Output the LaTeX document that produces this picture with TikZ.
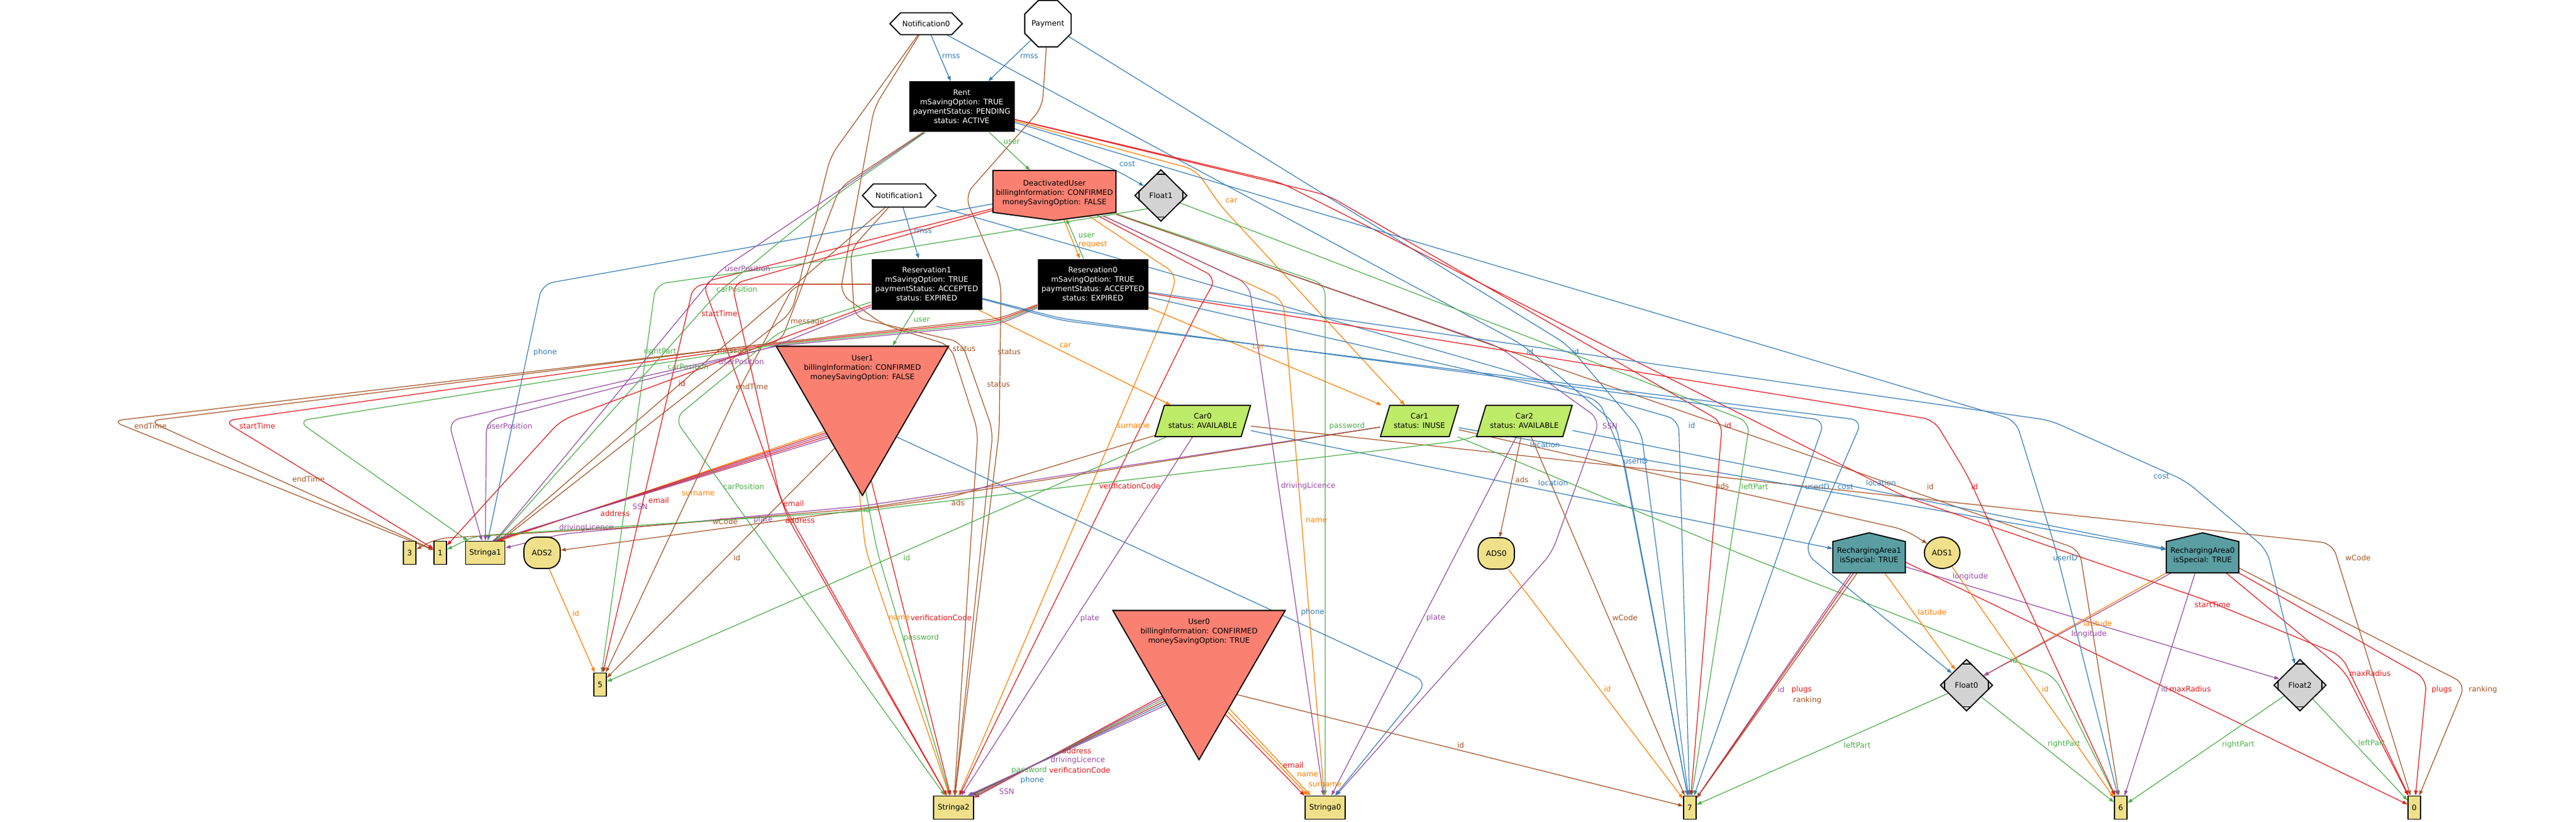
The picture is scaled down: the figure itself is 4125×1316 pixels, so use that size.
\documentclass[tikz,border=0pt]{standalone}
\usepackage{fontspec}
\setmainfont{DejaVu Sans}
\usetikzlibrary{shapes.geometric,arrows.meta,backgrounds,calc}
\newdimen\pxu
\pxu=0.5pt
\definecolor{cb}{RGB}{55,126,184}
\definecolor{cr}{RGB}{228,26,28}
\definecolor{cg}{RGB}{77,175,74}
\definecolor{cp}{RGB}{152,78,163}
\definecolor{co}{RGB}{255,127,0}
\definecolor{cn}{RGB}{166,86,40}
\definecolor{khk}{RGB}{240,224,138}
\definecolor{slm}{RGB}{250,128,114}
\definecolor{cLime}{RGB}{190,235,104}
\definecolor{cTeal}{RGB}{90,158,162}
\definecolor{lgry}{RGB}{211,211,211}
\tikzset{
 edg/.style={line width=0.6pt,-{Triangle[length=4pt,width=2.8pt]},rounded corners=9pt},
 lb/.style={inner sep=0pt},
 txt/.style={inner sep=0pt,align=center},
 shp/.style={draw,line width=0.9pt},
 ibox/.style={draw,line width=0.9pt,fill=khk,inner sep=0pt,minimum height=37\pxu},
 blk/.style={fill=black,text=white,align=center,inner sep=0pt},
 fdia/.style={diamond,draw,line width=0.9pt,fill=lgry,inner sep=0pt,minimum width=84\pxu,minimum height=83\pxu},
 utri/.style={regular polygon,regular polygon sides=3,regular polygon rotate=180,minimum size=318.6\pxu,draw,line width=0.9pt,fill=slm,inner sep=0pt},
 adsq/.style={rectangle,rounded corners=10pt,draw,line width=0.9pt,fill=khk,minimum width=58\pxu,minimum height=50\pxu,inner sep=0pt},
}
\newcommand\elab[5]{\node[lb,text=#2] (#1) at (#3,#4) {#5};}
\newcommand\mdticks[1]{\draw[line width=0.9pt] ($(#1.north)+(-8,8)$) -- ($(#1.north)+(8,8)$) ($(#1.south)+(-8,-8)$) -- ($(#1.south)+(8,-8)$) ($(#1.west)+(8,-8)$) -- ($(#1.west)+(8,8)$) ($(#1.east)+(-8,-8)$) -- ($(#1.east)+(-8,8)$);}
\begin{document}
\begin{tikzpicture}[x=0.5pt,y=-0.5pt,font=\fontsize{6}{7.5}\selectfont]
\useasboundingbox (0,0) rectangle (4125,1316);
% ---------------- nodes ----------------
\draw[shp,fill=white] (1425,38) -- (1442,20.5) -- (1524,20.5) -- (1541,38) -- (1524,55.5) -- (1442,55.5) -- cycle;
\node[txt,minimum width=117\pxu,minimum height=35\pxu] (N0) at (1483,38) {Notification0};
\node[regular polygon,regular polygon sides=8,minimum size=70\pxu,draw,line width=0.9pt,fill=white,inner sep=0pt] (Pay) at (1678,38) {Payment};
\node[blk,minimum width=169\pxu,minimum height=81\pxu] (Rent) at (1540,171) {Rent\\mSavingOption: TRUE\\paymentStatus: PENDING\\status: ACTIVE};
\draw[shp,fill=white] (1381,313) -- (1398.5,294.5) -- (1481.5,294.5) -- (1499,313) -- (1481.5,331.5) -- (1398.5,331.5) -- cycle;
\node[txt,minimum width=118\pxu,minimum height=37\pxu] (N1) at (1440,313) {Notification1};
\draw[shp,fill=slm] (1590,273) -- (1787,273) -- (1787,340) -- (1688.5,353) -- (1590,340) -- cycle;
\node[txt,minimum width=197\pxu,minimum height=72\pxu] (DU) at (1688.5,309) {DeactivatedUser\\billingInformation: CONFIRMED\\moneySavingOption: FALSE};
\node[fdia] (F1) at (1859,313) {Float1};
\mdticks{F1}
\node[blk,minimum width=177\pxu,minimum height=81\pxu] (R1) at (1484,455) {Reservation1\\mSavingOption: TRUE\\paymentStatus: ACCEPTED\\status: EXPIRED};
\node[blk,minimum width=177\pxu,minimum height=81\pxu] (R0) at (1750,455) {Reservation0\\mSavingOption: TRUE\\paymentStatus: ACCEPTED\\status: EXPIRED};
\node[utri] (U1) at (1381,634) {};
\node[txt] (U1t) at (1381,589) {User1\\billingInformation: CONFIRMED\\moneySavingOption: FALSE};
\draw[shp,fill=cLime] (1849.5,699) -- (1987.5,699) -- (2002.5,649) -- (1864.5,649) -- cycle;
\node[txt,minimum width=153\pxu,minimum height=50\pxu] (C0) at (1926,674) {Car0\\status: AVAILABLE};
\draw[shp,fill=cLime] (2210.5,699) -- (2320.5,699) -- (2335.5,649) -- (2225.5,649) -- cycle;
\node[txt,minimum width=125\pxu,minimum height=50\pxu] (C1) at (2273,674) {Car1\\status: INUSE};
\draw[shp,fill=cLime] (2364.5,699) -- (2502.5,699) -- (2517.5,649) -- (2379.5,649) -- cycle;
\node[txt,minimum width=153\pxu,minimum height=50\pxu] (C2) at (2441,674) {Car2\\status: AVAILABLE};
\node[ibox,minimum width=20\pxu] (I3) at (656,885) {3};
\node[ibox,minimum width=20\pxu] (I1) at (705,885) {1};
\node[ibox,minimum width=63\pxu] (S1) at (777,885) {Stringa1};
\node[adsq] (ADS2) at (868,885) {ADS2};
\node[ibox,minimum width=20\pxu] (I5) at (961,1096) {5};
\node[adsq] (ADS0) at (2396,886) {ADS0};
\draw[shp,fill=cTeal] (2935,917) -- (2935,867) -- (2993,853) -- (3051,867) -- (3051,917) -- cycle;
\node[txt,minimum width=116\pxu,minimum height=54\pxu] (RA1) at (2993,890) {RechargingArea1\\isSpecial: TRUE};
\node[ellipse,draw,line width=0.9pt,fill=khk,minimum width=57\pxu,minimum height=50\pxu,inner sep=0pt] (ADS1) at (3110,885) {ADS1};
\draw[shp,fill=cTeal] (3469,917) -- (3469,867) -- (3527,853) -- (3585,867) -- (3585,917) -- cycle;
\node[txt,minimum width=116\pxu,minimum height=54\pxu] (RA0) at (3527,890) {RechargingArea0\\isSpecial: TRUE};
\node[fdia] (F0) at (3149,1097) {Float0};
\mdticks{F0}
\node[fdia] (F2) at (3683,1097) {Float2};
\mdticks{F2}
\node[utri] (U0) at (1920,1057) {};
\node[txt] (U0t) at (1920,1011) {User0\\billingInformation: CONFIRMED\\moneySavingOption: TRUE};
\node[ibox,minimum width=64\pxu] (S2) at (1527,1293) {Stringa2};
\node[ibox,minimum width=64\pxu] (S0) at (2122,1293) {Stringa0};
\node[ibox,minimum width=20\pxu] (I7) at (2706,1293) {7};
\node[ibox,minimum width=20\pxu] (I6) at (3396,1293) {6};
\node[ibox,minimum width=20\pxu] (I0) at (3866,1293) {0};
% ---------------- edges ----------------
\begin{pgfonlayer}{background}
\fill[white] (0,0) rectangle (4125,1316);
\draw[edg,cb] (N0) -- (Rent);
\draw[edg,cb] (Pay) -- (Rent);
\draw[edg,cb] (N1) -- (R1);
\draw[edg,cg] (Rent) -- (DU);
\draw[edg,cb] (Rent) -- (1790,274) -- (F1);
\draw[edg,co] (Rent) -- (1915,272) -- (1955,330) -- (C1);
\draw[edg,cg] ([xshift=-15\pxu]R0.north) -- ([xshift=19\pxu,yshift=-5\pxu]DU.south);
\draw[edg,co] ([xshift=15\pxu,yshift=-6\pxu]DU.south) -- ([xshift=-21\pxu]R0.north);
\draw[edg,cg] ([xshift=-20\pxu]R1.south) -- (U1);
\draw[edg,co] (R1) -- (C0);
\draw[edg,co] (R0) -- (C1);
% notifications / payment
\draw[edg,cb] (N0) -- (2438,552) -- (2588,680) -- (I7);
\draw[edg,cb] (Pay) -- (2510,552) -- (2628,690) -- (I7);
\draw[edg,cb] (N1) -- (2688,672) -- (I7);
\draw[edg,cn] (N0) -- (1330,250) -- (1268,500) -- (S1);
\draw[edg,cn] (N1) -- (1152,560) -- (S1);
\draw[edg,cn] (N0) -- (1400,172) -- (1345,470) -- (1415,520) -- (1522,553) -- (1566,690) -- (S2);
\draw[edg,cn] (N1) -- (1362,400) -- (1368,508) -- (1540,548) -- (1590,690) -- (S2);
\draw[edg,cn] (Pay) -- (1669,172) -- (1545,313) -- (1603,453) -- (1600,690) -- (S2);
% deactivated user
\draw[edg,co] (DU) -- (2055,480) -- (S0);
\draw[edg,cg] (DU) -- (2122,455) -- (S0);
\draw[edg,cp] (DU) -- (2000,455) -- (S0);
\draw[edg,cp] (DU) -- (2400,555) -- (2562,672) -- (2485,885) -- (S0);
\draw[edg,co] (DU) -- (1885,440) -- (1866,500) -- (S2);
\draw[edg,cr] (DU) -- (1948,445) -- (1917,500) -- (S2);
\draw[edg,cr] (DU) -- (1172,455) -- (1250,800) -- (S2);
\draw[edg,cr] (DU) -- (1125,452) -- (1262,830) -- (S2);
\draw[edg,cb] (DU) -- (868,455) -- (S1);
\draw[edg,cn] (DU) -- (3330,880) -- (I6);
% user1
\draw[edg,co] (U1.223) -- (S1.40);
\draw[edg,cr] (U1.225) -- (S1.45);
\draw[edg,cp] (U1.227) -- (S1.50);
\draw[edg,cr] (U1.229) -- (S1.55);
\draw[edg,cp] (U1.231) -- (S1.60);
\draw[edg,co] (U1.268) -- (1386,880) -- (S2);
\draw[edg,cg] (U1.272) -- (1404,880) -- (S2);
\draw[edg,cr] (U1.276) -- (S2);
\draw[edg,cb] (U1.310) -- (2285,1092) -- (S0);
\draw[edg,cn] (U1.242) -- (I5);
% user0
\draw[edg,cr] (U0.224) -- (S2.26);
\draw[edg,cp] (U0.226) -- (S2.29);
\draw[edg,cg] (U0.228) -- (S2.32);
\draw[edg,cr] (U0.230) -- (S2.35);
\draw[edg,cb] (U0.232) -- (S2.38);
\draw[edg,cp] (U0.234) -- (S2.41);
\draw[edg,cr] (U0.296) -- (S0.150);
\draw[edg,co] (U0.299) -- (S0.145);
\draw[edg,co] (U0.302) -- (S0.140);
\draw[edg,cn] (U0.318) -- (I7);
% cars
\draw[edg,cp] (C0) -- (S2);
\draw[edg,cn] (C0) -- (3735,870) -- (I0);
\draw[edg,cg] (C0) -- (I5);
\draw[edg,cn] (C0) -- (1519,797) -- (ADS2);
\draw[edg,cb] (C0) -- (RA1);
\draw[edg,cp] (C1) -- (1383,810) -- (900,855) -- (S1);
\draw[edg,cn] (C1) -- (1383,814) -- (1000,845) -- (700,862) -- (I3);
\draw[edg,cg] (C2) -- (2337,706) -- (1383,818) -- (760,858) -- (I1);
\draw[edg,cn] (C1) -- (3050,848) -- (ADS1);
\draw[edg,cg] (C1) -- (2800,892) -- (3290,1083) -- (I6);
\draw[edg,cb] (C1) -- (RA0);
\draw[edg,cn] (C2) -- (ADS0);
\draw[edg,cn] (C2) -- (I7);
\draw[edg,cp] (C2) -- (S0);
\draw[edg,cb] (C2) -- (RA0);
% recharging areas, ads, floats
\draw[edg,cp] ([xshift=-29\pxu]RA1.south) -- (I7);
\draw[edg,cr] ([xshift=-25\pxu]RA1.south) -- (I7);
\draw[edg,cn] ([xshift=-19\pxu]RA1.south) -- (I7);
\draw[edg,co] ([xshift=25\pxu]RA1.south) -- (F0);
\draw[edg,cp] (RA1) -- (F2);
\draw[edg,cr] ([yshift=-10\pxu]RA1.east) -- (I0);
\draw[edg,co] (RA0.south west) -- (F0);
\draw[edg,cp] ([xshift=8\pxu]RA0.south west) -- (F0);
\draw[edg,cp] ([xshift=-12\pxu]RA0.south) -- (I6);
\draw[edg,cr] ([xshift=38\pxu]RA0.south) -- (3755,1075) -- (I0);
\draw[edg,cr] (RA0.south east) -- (3886,1087) -- (I0);
\draw[edg,cn] ([yshift=8\pxu]RA0.south east) -- (3948,1095) -- (I0);
\draw[edg,co] (ADS1) -- (I6);
\draw[edg,co] (ADS0) -- (I7);
\draw[edg,co] (ADS2) -- (I5);
\draw[edg,cg] (F0) -- (I7);
\draw[edg,cg] (F0) -- (I6);
\draw[edg,cg] (F2) -- (I6);
\draw[edg,cg] (F2) -- (I0);
\draw[edg,cg] (F1) -- (2802,676) -- (I7);
\draw[edg,cg] (F1.south west) -- (1350,413) -- (1050,455) -- (I5);
% reservations
\draw[edg,cr] (Rent) -- (2127,313) -- (2758,676) -- (I7);
\draw[edg,cr] (Rent) -- (2050,292) -- (3050,795) -- (3530,960) -- (3750,1050) -- (I0);
\draw[edg,cn] (Rent) -- (1345,300) -- (1250,548) -- (179,674) -- (I1);
\draw[edg,cn] (R0) -- (1600,510) -- (1248,548) -- (238,674) -- (I1);
\draw[edg,cr] (R0) -- (1600,513) -- (1246,550) -- (358,674) -- (I1);
\draw[edg,cg] (R0) -- (1600,516) -- (1244,552) -- (477,674) -- (S1);
\draw[edg,cp] (R0) -- (1600,519) -- (1242,554) -- (779,674) -- (S1);
\draw[edg,cp] (R1) -- (1236,556) -- (718,674) -- (S1);
\draw[edg,cp] (Rent) -- (1345,304) -- (1150,435) -- (S1);
\draw[edg,cg] (Rent) -- (1345,308) -- (1150,468) -- (S1);
\draw[edg,cr] (R1) -- (1090,602) -- (898,673) -- (I1);
\draw[edg,cr] (R1) -- (1111,455) -- (I5);
\draw[edg,cn] (R1) -- (1272,455) -- (1175,640) -- (I5);
\draw[edg,cb] (R1) -- (1700,510) -- (2922,673) -- (I7);
\draw[edg,cb] (R1) -- (1700,513) -- (2982,673) -- (2890,885) -- (F0);
\draw[edg,cr] (R0) -- (3097,672) -- (3150,760) -- (I6);
\draw[edg,cb] (R0) -- (2560,640) -- (2600,735) -- (I7);
\draw[edg,cb] (R0) -- (3283,673) -- (3500,770) -- (3630,880) -- (F2);
\draw[edg,cb] (Rent) -- (3228,673) -- (3292,880) -- (I6);
\draw[edg,cg] (R1) -- (1250,530) -- (1080,670) -- (S2);
\end{pgfonlayer}
% ---------------- labels ----------------
\elab{t1}{cb}{1523}{90}{rmss}
\elab{t2}{cb}{1648}{90}{rmss}
\elab{t3}{cb}{1478}{370}{rmss}
\elab{t4}{cg}{1620}{227}{user}
\elab{t5}{cb}{1805}{262}{cost}
\elab{t6}{co}{1972}{321}{car}
\elab{t7}{cg}{1740}{377}{user}
\elab{t8}{co}{1750}{392}{request}
\elab{t9}{cg}{1476}{512}{user}
\elab{t10}{co}{1706}{553}{car}
\elab{t11}{co}{2015}{555}{car}
\elab{t12}{cb}{2450}{563}{id}
\elab{t13}{cb}{2523}{563}{id}
\elab{t14}{cb}{2709}{681}{id}
\elab{t15}{cn}{1293}{516}{message}
\elab{t16}{cn}{1176}{563}{message}
\elab{t17}{cn}{1544}{558}{status}
\elab{t18}{cn}{1599}{615}{status}
\elab{t19}{cn}{1616}{563}{status}
\elab{t20}{co}{2108}{833}{name}
\elab{t21}{cg}{2157}{682}{password}
\elab{t22}{cp}{2095}{778}{drivingLicence}
\elab{t23}{cp}{2578}{682}{SSN}
\elab{t24}{co}{1815}{682}{surname}
\elab{t25}{cr}{1809}{778}{verificationCode}
\elab{t26}{cr}{1271}{806}{email}
\elab{t27}{cr}{1281}{833}{address}
\elab{t28}{cb}{873}{564}{phone}
\elab{t29}{cn}{3091}{779}{id}
\elab{t30}{co}{1118}{790}{surname}
\elab{t31}{cr}{1055}{801}{email}
\elab{t32}{cp}{1025}{811}{SSN}
\elab{t33}{cr}{985}{822}{address}
\elab{t34}{cp}{939}{845}{drivingLicence}
\elab{t35}{co}{1440}{989}{name}
\elab{t36}{cg}{1475}{1021}{password}
\elab{t37}{cr}{1507}{989}{verificationCode}
\elab{t38}{cb}{2102}{980}{phone}
\elab{t39}{cn}{1180}{893}{id}
\elab{t40}{cr}{1724}{1202}{address}
\elab{t41}{cp}{1726}{1217}{drivingLicence}
\elab{t42}{cg}{1648}{1233}{password}
\elab{t43}{cr}{1729}{1233}{verificationCode}
\elab{t44}{cb}{1653}{1249}{phone}
\elab{t45}{cp}{1612}{1267}{SSN}
\elab{t46}{cr}{2071}{1225}{email}
\elab{t47}{co}{2094}{1240}{name}
\elab{t48}{co}{2122}{1256}{surname}
\elab{t49}{cn}{2339}{1193}{id}
\elab{t50}{cp}{1745}{990}{plate}
\elab{t51}{cn}{3776}{893}{wCode}
\elab{t52}{cg}{1452}{893}{id}
\elab{t53}{cn}{1534}{805}{ads}
\elab{t54}{cb}{2487}{773}{location}
\elab{t55}{cp}{1222}{832}{plate}
\elab{t56}{cn}{1161}{835}{wCode}
\elab{t57}{cg}{1388}{816}{id}
\elab{t58}{cn}{2758}{778}{ads}
\elab{t59}{cg}{3225}{1057}{id}
\elab{t60}{cb}{2474}{712}{location}
\elab{t61}{cn}{2437}{768}{ads}
\elab{t62}{cn}{2602}{989}{wCode}
\elab{t63}{cp}{2299}{989}{plate}
\elab{t64}{cb}{3012}{773}{location}
\elab{t65}{cr}{2767}{681}{id}
\elab{t66}{cr}{3543}{968}{startTime}
\elab{t67}{cn}{494}{767}{endTime}
\elab{t68}{cn}{241}{682}{endTime}
\elab{t69}{cr}{412}{682}{startTime}
\elab{t70}{cg}{1102}{587}{carPosition}
\elab{t71}{cp}{816}{682}{userPosition}
\elab{t72}{cp}{1187}{579}{userPosition}
\elab{t73}{cp}{1197}{430}{userPosition}
\elab{t74}{cg}{1180}{463}{carPosition}
\elab{t75}{cr}{1092}{614}{id}
\elab{t76}{cr}{1152}{502}{startTime}
\elab{t77}{cn}{1204}{619}{endTime}
\elab{t78}{cb}{2910}{779}{userID}
\elab{t79}{cb}{2955}{779}{cost}
\elab{t80}{cr}{3162}{779}{id}
\elab{t81}{cb}{2619}{738}{userID}
\elab{t82}{cb}{3461}{762}{cost}
\elab{t83}{cb}{3307}{893}{userID}
\elab{t84}{cg}{1191}{779}{carPosition}
\elab{t85}{cp}{2852}{1104}{id}
\elab{t86}{cr}{2885}{1104}{plugs}
\elab{t87}{cn}{2894}{1121}{ranking}
\elab{t88}{co}{3094}{980}{latitude}
\elab{t89}{cp}{3155}{923}{longitude}
\elab{t90}{cr}{3507}{1103}{maxRadius}
\elab{t91}{co}{3359}{998}{latitude}
\elab{t92}{cp}{3345}{1015}{longitude}
\elab{t93}{cp}{3466}{1103}{id}
\elab{t94}{cr}{3795}{1078}{maxRadius}
\elab{t95}{cr}{3910}{1104}{plugs}
\elab{t96}{cn}{3976}{1104}{ranking}
\elab{t97}{co}{3275}{1103}{id}
\elab{t98}{co}{2574}{1103}{id}
\elab{t99}{co}{922}{982}{id}
\elab{t100}{cg}{2974}{1193}{leftPart}
\elab{t101}{cg}{3305}{1191}{rightPart}
\elab{t102}{cg}{3584}{1192}{rightPart}
\elab{t103}{cg}{3798}{1189}{leftPart}
\elab{t104}{cg}{2810}{779}{leftPart}
\elab{t105}{cg}{1057}{563}{rightPart}
\end{tikzpicture}
\end{document}
